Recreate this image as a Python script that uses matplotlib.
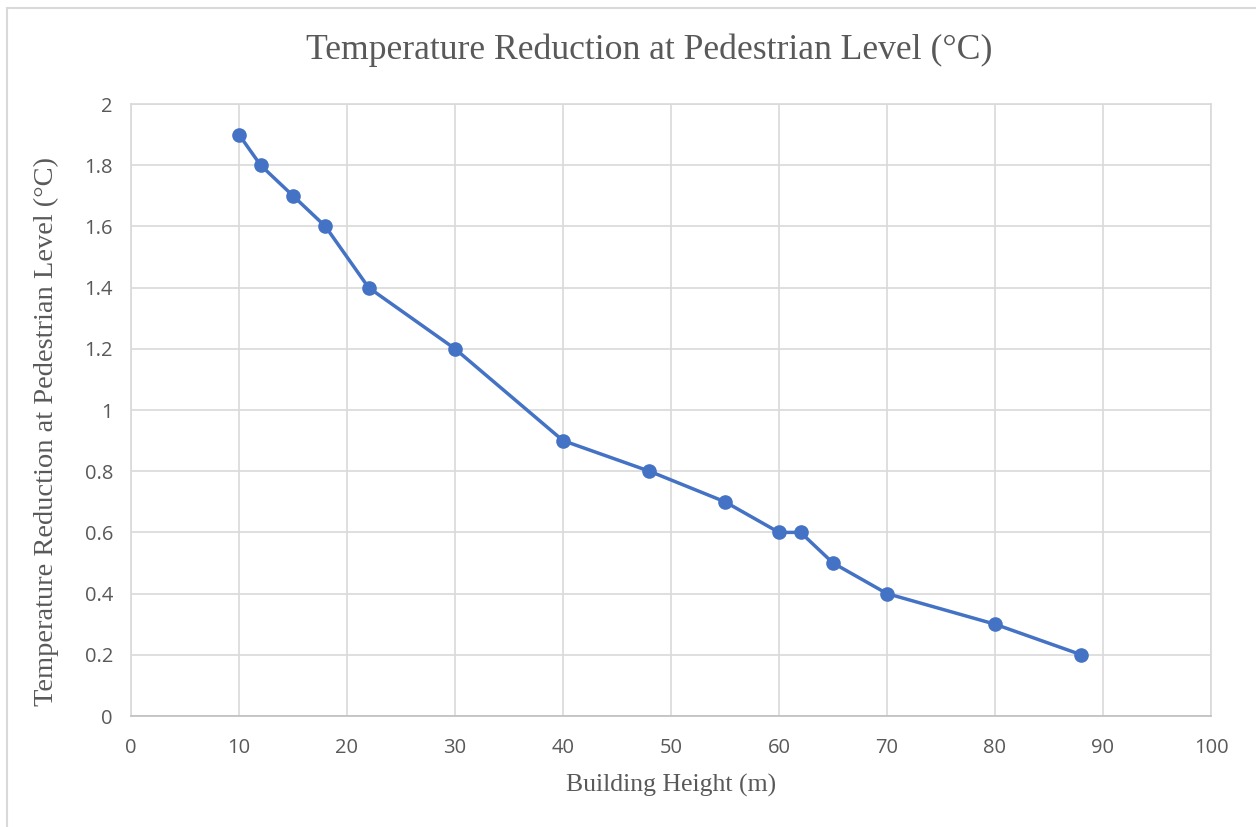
import matplotlib.pyplot as plt
from matplotlib.patches import Rectangle

# building height (m) vs temperature reduction (°C)
height = [10, 12, 15, 18, 22, 30, 40, 48, 55, 60, 62, 65, 70, 80, 88]
reduction = [1.9, 1.8, 1.7, 1.6, 1.4, 1.2, 0.9, 0.8, 0.7, 0.6, 0.6, 0.5, 0.4, 0.3, 0.2]
xticks = list(range(0, 101, 10))
yticks = [0, 0.2, 0.4, 0.6, 0.8, 1, 1.2, 1.4, 1.6, 1.8, 2]
ytick_labels = ['0', '0.2', '0.4', '0.6', '0.8', '1', '1.2', '1.4', '1.6', '1.8', '2']

serif = 'Liberation Serif'
sans = 'Open Sans'
grey = '#595959'

fig = plt.figure(figsize=(12.56, 8.27), dpi=100)
ax = fig.add_axes([131/1256, 1 - 716/827, (1211 - 131)/1256, (716 - 104)/827])

# chart area border (only left/top edges visible in the crop)
fig.patches.append(Rectangle((7/1256, -0.05), 1.1, 1 - 8/827 + 0.05,
                             transform=fig.transFigure, fill=False,
                             edgecolor='#d9d9d9', linewidth=1.5))

ax.plot(height, reduction, color='#4472C4', linewidth=2.5, marker='o',
        markersize=9.5, zorder=3)

ax.set_xlim(0, 100)
ax.set_ylim(0, 2)
ax.set_xticks(xticks)
ax.set_yticks(yticks)
ax.set_yticklabels(ytick_labels)
ax.grid(True, color='#d9d9d9', linewidth=1.2)
ax.set_axisbelow(True)
for s in ['top', 'right', 'left']:
    ax.spines[s].set_color('#d9d9d9')
    ax.spines[s].set_linewidth(1.2)
ax.spines['bottom'].set_color('#bfbfbf')
ax.spines['bottom'].set_linewidth(1.2)
ax.tick_params(length=0, labelsize=14.5, labelcolor=grey)
ax.tick_params(axis='x', pad=16)
ax.tick_params(axis='y', pad=13)
for lbl in ax.get_xticklabels() + ax.get_yticklabels():
    lbl.set_fontfamily(sans)

fig.text(649/1256, 1 - 50/827, 'Temperature Reduction at Pedestrian Level (°C)',
         ha='center', va='center', fontsize=25.7, color=grey, family=serif)
fig.text(671/1256, 1 - 785/827, 'Building Height (m)', ha='center', va='center',
         fontsize=18.5, color=grey, family=serif)
fig.text(46/1256, 1 - 432/827, 'Temperature Reduction at Pedestrian Level (°C)',
         ha='center', va='center', rotation=90, fontsize=20.5, color=grey, family=serif)

fig.savefig('out.png', dpi=100)
